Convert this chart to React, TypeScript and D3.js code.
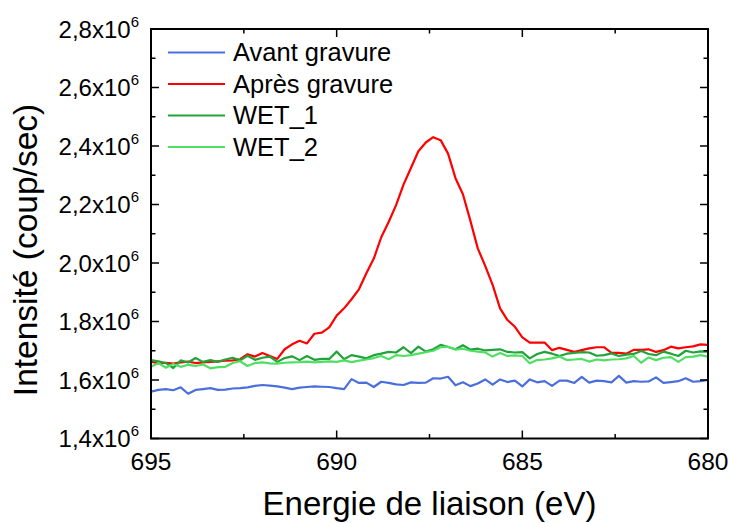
import { useMemo } from 'react';
import * as d3 from 'd3';

// binding energy grid (eV), 0.2 eV step
const energy = [
  695.0, 694.8, 694.6, 694.4, 694.2, 694.0, 693.8, 693.6, 693.4, 693.2,
  693.0, 692.8, 692.6, 692.4, 692.2, 692.0, 691.8, 691.6, 691.4, 691.2,
  691.0, 690.8, 690.6, 690.4, 690.2, 690.0, 689.8, 689.6, 689.4, 689.2,
  689.0, 688.8, 688.6, 688.4, 688.2, 688.0, 687.8, 687.6, 687.4, 687.2,
  687.0, 686.8, 686.6, 686.4, 686.2, 686.0, 685.8, 685.6, 685.4, 685.2,
  685.0, 684.8, 684.6, 684.4, 684.2, 684.0, 683.8, 683.6, 683.4, 683.2,
  683.0, 682.8, 682.6, 682.4, 682.2, 682.0, 681.8, 681.6, 681.4, 681.2,
  681.0, 680.8, 680.6, 680.4, 680.2, 680.0,
];

// intensities in 10^6 coup/sec
const avant = [
  1.560, 1.566, 1.569, 1.565, 1.575, 1.553, 1.566, 1.569, 1.572, 1.566,
  1.567, 1.571, 1.572, 1.575, 1.580, 1.583, 1.581, 1.578, 1.574, 1.569,
  1.574, 1.576, 1.578, 1.577, 1.576, 1.572, 1.569, 1.603, 1.590, 1.591,
  1.576, 1.594, 1.590, 1.585, 1.583, 1.592, 1.590, 1.591, 1.606, 1.605,
  1.611, 1.582, 1.592, 1.579, 1.588, 1.602, 1.584, 1.602, 1.593, 1.598,
  1.578, 1.602, 1.592, 1.596, 1.580, 1.598, 1.598, 1.590, 1.611, 1.591,
  1.598, 1.596, 1.592, 1.614, 1.591, 1.596, 1.594, 1.595, 1.609, 1.590,
  1.593, 1.596, 1.606, 1.594, 1.596, 1.600,
];

const apres = [
  1.663, 1.657, 1.659, 1.656, 1.660, 1.663, 1.658, 1.660, 1.662, 1.664,
  1.666, 1.667, 1.671, 1.688, 1.680, 1.692, 1.682, 1.672, 1.705, 1.722,
  1.734, 1.725, 1.758, 1.762, 1.780, 1.820, 1.845, 1.876, 1.910, 1.965,
  2.015, 2.088, 2.140, 2.198, 2.268, 2.325, 2.382, 2.412, 2.430, 2.420,
  2.374, 2.290, 2.235, 2.145, 2.050, 1.990, 1.925, 1.845, 1.805, 1.782,
  1.746, 1.728, 1.728, 1.728, 1.702, 1.710, 1.703, 1.696, 1.702, 1.708,
  1.712, 1.712, 1.693, 1.693, 1.690, 1.703, 1.703, 1.705, 1.696, 1.702,
  1.714, 1.708, 1.712, 1.715, 1.722, 1.720,
];

const wet1 = [
  1.668, 1.664, 1.658, 1.641, 1.667, 1.660, 1.675, 1.662, 1.668, 1.662,
  1.670, 1.676, 1.667, 1.683, 1.669, 1.676, 1.680, 1.662, 1.675, 1.681,
  1.668, 1.682, 1.669, 1.672, 1.672, 1.697, 1.671, 1.685, 1.680, 1.674,
  1.685, 1.690, 1.696, 1.694, 1.712, 1.692, 1.714, 1.697, 1.705, 1.720,
  1.713, 1.705, 1.719, 1.704, 1.707, 1.701, 1.703, 1.705, 1.696, 1.694,
  1.695, 1.674, 1.689, 1.696, 1.690, 1.682, 1.690, 1.693, 1.695, 1.694,
  1.683, 1.685, 1.691, 1.682, 1.687, 1.689, 1.699, 1.689, 1.685, 1.697,
  1.690, 1.682, 1.700, 1.694, 1.698, 1.697,
];

const wet2 = [
  1.645, 1.658, 1.642, 1.655, 1.645, 1.652, 1.648, 1.653, 1.640, 1.644,
  1.645, 1.658, 1.664, 1.648, 1.658, 1.660, 1.657, 1.656, 1.659, 1.660,
  1.661, 1.663, 1.660, 1.662, 1.664, 1.662, 1.667, 1.661, 1.666, 1.670,
  1.675, 1.682, 1.671, 1.685, 1.682, 1.685, 1.690, 1.695, 1.700, 1.712,
  1.714, 1.704, 1.707, 1.700, 1.697, 1.694, 1.680, 1.692, 1.682, 1.684,
  1.682, 1.657, 1.668, 1.670, 1.674, 1.680, 1.668, 1.670, 1.672, 1.663,
  1.670, 1.667, 1.670, 1.671, 1.674, 1.682, 1.659, 1.677, 1.668, 1.676,
  1.678, 1.662, 1.678, 1.680, 1.685, 1.680,
];

const seriesNames = ['Avant gravure', 'Après gravure', 'WET_1', 'WET_2'];
const seriesColors = ['#4a6fdc', '#ff0000', '#22a23a', '#4fe063'];
const seriesValues = [avant, apres, wet1, wet2];

const xTicks = [695, 690, 685, 680];
const xMinor = [692.5, 687.5, 682.5];
const yTicks = [1.4, 1.6, 1.8, 2.0, 2.2, 2.4, 2.6, 2.8];
const yMinor = [1.5, 1.7, 1.9, 2.1, 2.3, 2.5, 2.7];

const W = 729;
const H = 523;
const FONT = 'Liberation Sans, Arial, sans-serif';

export default function App() {
  const left = 151, right = 708, top = 29, bottom = 438.5;

  const x = useMemo(() => d3.scaleLinear().domain([695, 680]).range([left, right]), []);
  const y = useMemo(() => d3.scaleLinear().domain([1.4, 2.8]).range([bottom, top]), []);

  const line = d3.line<number>()
    .x((_, i) => x(energy[i]))
    .y(d => y(d));

  const majorLen = 8;
  const minorLen = 4.5;

  return (
    <svg width={W} height={H} style={{ position: 'absolute', left: 0, top: 0, background: '#fff' }}
      fontFamily={FONT}>
      <defs>
        <clipPath id="plot">
          <rect x={left} y={top} width={right - left} height={bottom - top} />
        </clipPath>
      </defs>

      {/* series */}
      <g clipPath="url(#plot)" fill="none" strokeWidth={2.2} strokeLinejoin="round">
        {seriesValues.map((vals, k) => (
          <path key={k} d={line(vals) ?? ''} stroke={seriesColors[k]} />
        ))}
      </g>

      {/* frame */}
      <rect x={left} y={top} width={right - left} height={bottom - top}
        fill="none" stroke="#000" strokeWidth={2} />

      {/* ticks, inward on all four sides */}
      <g stroke="#000" strokeWidth={1.5}>
        {xTicks.map(t => (
          <g key={'xt' + t}>
            <line x1={x(t)} x2={x(t)} y1={bottom} y2={bottom - majorLen} />
            <line x1={x(t)} x2={x(t)} y1={top} y2={top + majorLen} />
          </g>
        ))}
        {xMinor.map(t => (
          <g key={'xm' + t}>
            <line x1={x(t)} x2={x(t)} y1={bottom} y2={bottom - minorLen} />
            <line x1={x(t)} x2={x(t)} y1={top} y2={top + minorLen} />
          </g>
        ))}
        {yTicks.map(t => (
          <g key={'yt' + t}>
            <line x1={left} x2={left + majorLen} y1={y(t)} y2={y(t)} />
            <line x1={right} x2={right - majorLen} y1={y(t)} y2={y(t)} />
          </g>
        ))}
        {yMinor.map(t => (
          <g key={'ym' + t}>
            <line x1={left} x2={left + minorLen} y1={y(t)} y2={y(t)} />
            <line x1={right} x2={right - minorLen} y1={y(t)} y2={y(t)} />
          </g>
        ))}
      </g>

      {/* x tick labels */}
      <g fontSize={24.5} textAnchor="middle" fill="#000">
        {xTicks.map(t => (
          <text key={'xl' + t} x={x(t)} y={470}>{t}</text>
        ))}
      </g>

      {/* y tick labels */}
      <g fontSize={24} textAnchor="end" fill="#000">
        {yTicks.map(t => (
          <text key={'yl' + t} x={139} y={y(t) + 8.5}>
            {t.toFixed(1).replace('.', ',') + 'x10'}
            <tspan fontSize={15} dy={-11}>6</tspan>
          </text>
        ))}
      </g>

      {/* axis titles */}
      <text x={(left + right) / 2} y={515} fontSize={33} textAnchor="middle">
        Energie de liaison (eV)
      </text>
      <text transform={`translate(37,250) rotate(-90)`} fontSize={33.5} textAnchor="middle">
        Intensité (coup/sec)
      </text>

      {/* legend */}
      <g>
        {seriesNames.map((name, k) => {
          const ly = 52.5 + k * 31.5;
          return (
            <g key={name}>
              <line x1={168} x2={225} y1={ly} y2={ly} stroke={seriesColors[k]} strokeWidth={2.2} />
              <text x={233} y={ly + 8.8} fontSize={25.5} fill="#000">{name}</text>
            </g>
          );
        })}
      </g>
    </svg>
  );
}
